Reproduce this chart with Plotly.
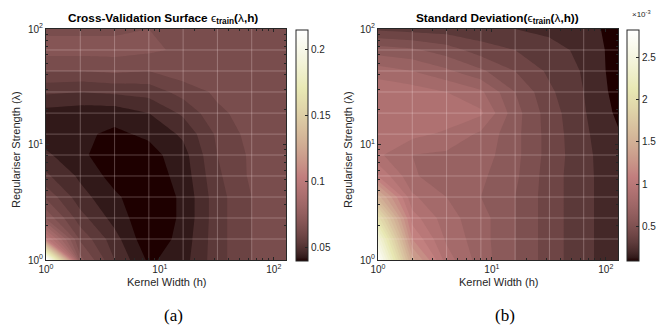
import numpy as np
import plotly.graph_objects as go

# ---------------- data ----------------
kernel_width = [1, 2, 4, 8, 16, 32, 64, 128]
reg_strength = [1.0, 1.52, 2.31, 3.51, 5.34, 8.11, 12.3, 18.7, 28.5, 43.3, 65.8, 100.0]

# rows: regulariser strength (low -> high), columns: kernel width (low -> high)
cv_error = [
    [0.215, 0.072, 0.055, 0.044, 0.048, 0.058, 0.065, 0.066],
    [0.102, 0.064, 0.052, 0.041, 0.047, 0.058, 0.065, 0.066],
    [0.074, 0.057, 0.048, 0.041, 0.046, 0.058, 0.065, 0.066],
    [0.064, 0.052, 0.046, 0.041, 0.046, 0.058, 0.065, 0.066],
    [0.056, 0.049, 0.043, 0.042, 0.047, 0.059, 0.066, 0.066],
    [0.051, 0.046, 0.042, 0.043, 0.048, 0.060, 0.066, 0.066],
    [0.047, 0.046, 0.044, 0.046, 0.051, 0.061, 0.067, 0.066],
    [0.048, 0.047, 0.047, 0.050, 0.056, 0.064, 0.067, 0.067],
    [0.056, 0.055, 0.056, 0.057, 0.062, 0.066, 0.068, 0.067],
    [0.065, 0.065, 0.066, 0.065, 0.068, 0.067, 0.068, 0.068],
    [0.072, 0.072, 0.072, 0.071, 0.069, 0.068, 0.068, 0.068],
    [0.069, 0.069, 0.069, 0.070, 0.068, 0.068, 0.068, 0.068],
]

# standard deviation, in units of 1e-3
cv_std_e3 = [
    [2.82, 1.45, 0.95, 0.75, 0.60, 0.45, 0.33, 0.23],
    [2.50, 1.20, 0.88, 0.74, 0.60, 0.45, 0.33, 0.23],
    [2.05, 1.05, 0.84, 0.74, 0.60, 0.45, 0.33, 0.23],
    [1.55, 0.92, 0.80, 0.70, 0.60, 0.45, 0.33, 0.23],
    [1.10, 0.82, 0.72, 0.72, 0.62, 0.45, 0.33, 0.23],
    [0.92, 0.80, 0.78, 0.75, 0.63, 0.46, 0.33, 0.22],
    [0.95, 0.93, 0.88, 0.78, 0.63, 0.46, 0.32, 0.21],
    [1.00, 1.00, 0.97, 0.92, 0.64, 0.45, 0.31, 0.18],
    [0.98, 0.95, 0.90, 0.82, 0.60, 0.42, 0.30, 0.16],
    [0.85, 0.80, 0.72, 0.62, 0.50, 0.38, 0.29, 0.15],
    [0.65, 0.62, 0.55, 0.45, 0.40, 0.33, 0.28, 0.15],
    [0.38, 0.36, 0.35, 0.33, 0.30, 0.28, 0.26, 0.14],
]

axis_tick_vals = [1, 10, 100]
axis_tick_text = ["10<sup>0</sup>", "10<sup>1</sup>", "10<sup>2</sup>"]
minor_tick_vals = [2, 3, 4, 5, 6, 7, 8, 9, 20, 30, 40, 50, 60, 70, 80, 90]

cbar_a_vals = [0.05, 0.1, 0.15, 0.2]
cbar_a_text = ["0.05", "0.1", "0.15", "0.2"]
cbar_b_vals = [0.5, 1.0, 1.5, 2.0, 2.5]
cbar_b_text = ["0.5", "1", "1.5", "2", "2.5"]


# ---------------- style helpers ----------------
def matlab_pink(m=64):
    gray = np.linspace(0, 1, m)
    n = int(np.fix(3 * m / 8))
    r = np.concatenate([np.arange(1, n + 1) / n, np.ones(m - n)])
    g = np.concatenate([np.zeros(n), np.arange(1, n + 1) / n, np.ones(m - 2 * n)])
    b = np.concatenate([np.zeros(2 * n), np.arange(1, m - 2 * n + 1) / (m - 2 * n)])
    pr = np.sqrt((2 * gray + r) / 3)
    pg = np.sqrt((2 * gray + g) / 3)
    pb = np.sqrt((2 * gray + b) / 3)
    return [[k / (m - 1), "rgb(%d,%d,%d)" % (round(pr[k] * 255), round(pg[k] * 255), round(pb[k] * 255))]
            for k in range(m)]


PINK = matlab_pink()
AX = "#262626"
FONT = "Liberation Sans, Arial, Helvetica, sans-serif"
W, H = 665, 326


def px_x(p):
    return p / W


def px_y(p):
    return 1 - p / H


fig = go.Figure()


def add_panel(z, zmin, zmax, lstart, lend, lsize, xa, ya, cb_x, cb_vals, cb_text):
    # continuous colour bar (MATLAB style) from a heatmap underneath the contour fill
    fig.add_trace(go.Heatmap(
        x=kernel_width, y=reg_strength, z=z, colorscale=PINK, zmin=zmin, zmax=zmax,
        xaxis=xa, yaxis=ya, showscale=True, hoverinfo="skip",
        colorbar=dict(
            x=px_x(cb_x), xanchor="left", y=px_y(145.5), yanchor="middle",
            len=(261 - 30) / H, lenmode="fraction", thickness=12, thicknessmode="pixels",
            outlinewidth=1, outlinecolor=AX, xpad=0, ypad=0,
            tickmode="array", tickvals=cb_vals, ticktext=cb_text,
            ticks="inside", ticklen=3, tickcolor=AX,
            tickfont=dict(family=FONT, size=10, color=AX),
        ),
    ))
    fig.add_trace(go.Contour(
        x=kernel_width, y=reg_strength, z=z, colorscale=PINK, zmin=zmin, zmax=zmax,
        xaxis=xa, yaxis=ya, showscale=False, hoverinfo="skip",
        contours=dict(start=lstart, end=lend, size=lsize, coloring="fill", showlines=False),
        line=dict(width=0, smoothing=0),
    ))
    # mesh lines at the data grid
    gx, gy = [], []
    for h in kernel_width[1:-1]:
        gx += [h, h, None]
        gy += [reg_strength[0], reg_strength[-1], None]
    for lam in reg_strength[1:-1]:
        gx += [kernel_width[0], kernel_width[-1], None]
        gy += [lam, lam, None]
    fig.add_trace(go.Scatter(
        x=gx, y=gy, mode="lines", xaxis=xa, yaxis=ya, hoverinfo="skip", showlegend=False,
        line=dict(color="rgba(255,235,235,0.28)", width=1),
    ))


add_panel(cv_error, 0.040, 0.215, 0.045, 0.215, 0.005, "x", "y", 296, cbar_a_vals, cbar_a_text)
add_panel(cv_std_e3, 0.095, 2.82, 0.2, 2.8, 0.1, "x2", "y2", 627, cbar_b_vals, cbar_b_text)

axis_common = dict(
    type="log", showline=True, linecolor=AX, linewidth=1, mirror="allticks",
    ticks="inside", ticklen=3, tickcolor=AX, showgrid=False, zeroline=False,
    tickmode="array", tickvals=axis_tick_vals, ticktext=axis_tick_text,
    tickfont=dict(family=FONT, size=10, color=AX), automargin=False,
    minor=dict(ticks="inside", ticklen=2, tickcolor=AX, tickmode="array", tickvals=minor_tick_vals),
)

xr = [0, np.log10(kernel_width[-1])]
yr = [0, 2]

fig.update_layout(
    width=W, height=H, margin=dict(l=0, r=0, t=0, b=0, autoexpand=False),
    paper_bgcolor="white", plot_bgcolor="white", showlegend=False,
    font=dict(family=FONT, color=AX),
    xaxis=dict(axis_common, domain=[px_x(46), px_x(286)], range=xr, anchor="y"),
    yaxis=dict(axis_common, domain=[px_y(260), px_y(29)], range=yr, anchor="x"),
    xaxis2=dict(axis_common, domain=[px_x(378), px_x(618)], range=xr, anchor="y2"),
    yaxis2=dict(axis_common, domain=[px_y(260), px_y(29)], range=yr, anchor="x2"),
)

ann = []
title_a = "<b>Cross-Validation Surface </b>ϵ<sub><b>train</b></sub><b>(</b>λ<b>,h)</b>"
title_b = "<b>Standard Deviation(</b>ϵ<sub><b>train</b></sub><b>(</b>λ<b>,h))</b>"
for cx, txt in [(163, title_a), (497, title_b)]:
    ann.append(dict(x=px_x(cx), y=px_y(18), xref="paper", yref="paper", text=txt, showarrow=False,
                    xanchor="center", yanchor="middle", font=dict(family=FONT, size=11.8, color="black")))
for cx in [166, 498]:
    ann.append(dict(x=px_x(cx), y=px_y(282), xref="paper", yref="paper", text="Kernel Width (h)",
                    showarrow=False, xanchor="center", yanchor="middle",
                    font=dict(family=FONT, size=11, color=AX)))
for cx in [16, 348]:
    ann.append(dict(x=px_x(cx), y=px_y(150), xref="paper", yref="paper", text="Regulariser Strength (λ)",
                    showarrow=False, xanchor="center", yanchor="middle", textangle=-90,
                    font=dict(family=FONT, size=11, color=AX)))
for cx, t in [(173, "(a)"), (505, "(b)")]:
    ann.append(dict(x=px_x(cx), y=px_y(315), xref="paper", yref="paper", text=t, showarrow=False,
                    xanchor="center", yanchor="middle",
                    font=dict(family="Liberation Serif, Times New Roman, serif", size=17, color="black")))
ann.append(dict(x=px_x(630), y=px_y(14), xref="paper", yref="paper", text="×10<sup>-3</sup>",
                showarrow=False, xanchor="left", yanchor="middle",
                font=dict(family=FONT, size=8, color=AX)))
fig.update_layout(annotations=ann)

fig.write_html("out.html", config={"displayModeBar": False, "staticPlot": True},
               post_script="document.body.style.margin='0';")
